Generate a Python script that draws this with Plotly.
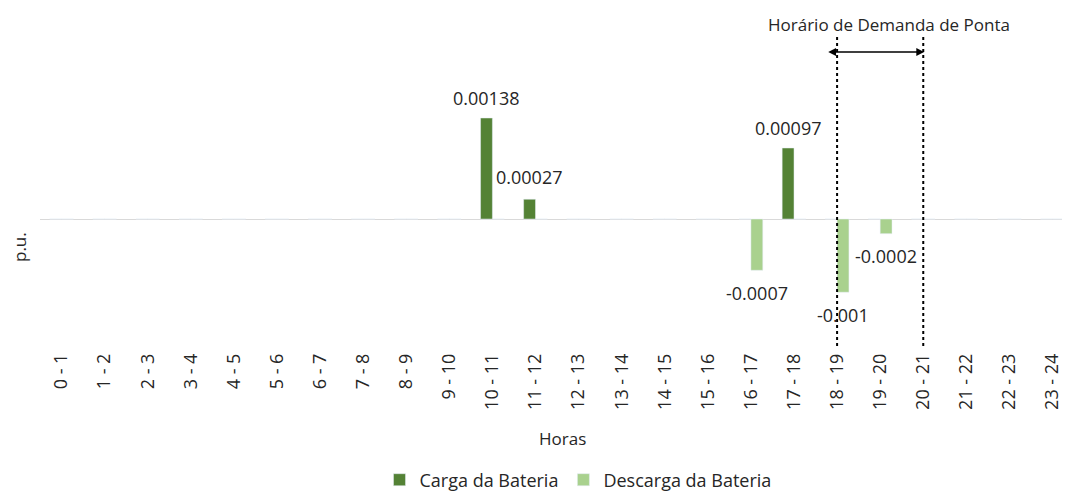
import plotly.graph_objects as go

categories = [f"{h} - {h+1}" for h in range(24)]
carga = [0, 0, 0, 0, 0, 0, 0, 0, 0, 0, 0.00138, 0.00027, 0, 0, 0, 0, 0, 0.00097, 0, 0, 0, 0, 0, 0]
descarga = [0, 0, 0, 0, 0, 0, 0, 0, 0, 0, 0, 0, 0, 0, 0, 0, -0.0007, 0, -0.001, -0.0002, 0, 0, 0, 0]
carga_labels = {10: "0.00138", 11: "0.00027", 17: "0.00097"}
descarga_labels = {16: "-0.0007", 18: "-0.001", 19: "-0.0002"}
peak_start, peak_end = "18 - 19", "20 - 21"

FONT = "Open Sans"
DARK = "#548235"
LIGHT = "#A9D18E"
TXT = "#262626"

OFF = 8  # page body margin offset
W, H = 1070 - 2 * OFF, 492 - OFF
L, T = 40 - OFF, 15 - OFF
R = 0
B = H - (345 - OFF)
pw, ph = W - L - R, H - T - B


def px_x(p):
    return (p - OFF - L) / pw


def px_y(p):
    return (H - B - (p - OFF)) / ph


fig = go.Figure()
fig.add_trace(go.Bar(x=categories, y=carga, name="Carga da Bateria", marker_color=DARK))
fig.add_trace(go.Bar(x=categories, y=descarga, name="Descarga da Bateria", marker_color=LIGHT))

# label offsets (pixels) relative to the bar tip
shifts_c = {10: (0, 6), 11: (0, 8), 17: (0, 6)}
shifts_d = {16: (0, -9), 18: (0, -9), 19: (0, -8)}
ann = []
for i, t in carga_labels.items():
    dx, dy = shifts_c[i]
    ann.append(dict(x=i - 0.14, y=carga[i], xref="x", yref="y", text=t, showarrow=False,
                    yanchor="bottom", xshift=dx, yshift=dy, font=dict(size=18, color=TXT, family=FONT)))
for i, t in descarga_labels.items():
    dx, dy = shifts_d[i]
    ann.append(dict(x=i + 0.14, y=descarga[i], xref="x", yref="y", text=t, showarrow=False,
                    yanchor="top", xshift=dx, yshift=dy, font=dict(size=18, color=TXT, family=FONT)))

ann.append(dict(x=20.02, y=px_y(52), ax=17.76, ay=px_y(52), xref="x", yref="y domain", axref="x",
                ayref="y domain",
                text="", showarrow=True, arrowhead=2, startarrowhead=2, arrowside="end+start",
                arrowwidth=1.3, arrowsize=1.2, startarrowsize=1.2, arrowcolor="#000000"))
ann.append(dict(x=px_x(889), y=px_y(25), xref="paper", yref="paper", text="Horário de Demanda de Ponta",
                xanchor="center", yanchor="middle",
                showarrow=False, font=dict(size=17, color=TXT, family=FONT)))
ann.append(dict(x=px_x(19), y=px_y(247), xref="paper", yref="paper", text="p.u.", textangle=-90,
                xanchor="center", yanchor="middle",
                showarrow=False, font=dict(size=17, color=TXT, family=FONT)))
ann.append(dict(x=px_x(562), y=px_y(438), xref="paper", yref="paper", text="Horas", showarrow=False,
                xanchor="center", yanchor="middle",
                font=dict(size=17, color=TXT, family=FONT)))

shapes = []
for c in (peak_start, peak_end):
    shapes.append(dict(type="line", xref="x", yref="paper", x0=categories.index(c), x1=categories.index(c),
                       y0=px_y(346), y1=px_y(36),
                       line=dict(color="#000000", width=2, dash="dot")))

fig.update_layout(
    width=W, height=H, margin=dict(l=L, r=R, t=T, b=B, autoexpand=False),
    paper_bgcolor="white", plot_bgcolor="white",
    barmode="group", bargap=0.45, bargroupgap=0,
    font=dict(family=FONT, color=TXT),
    annotations=ann, shapes=shapes,
    showlegend=True,
    legend=dict(orientation="h", x=px_x(578), xanchor="center", y=px_y(480), yanchor="middle",
                font=dict(size=18, color=TXT, family=FONT), traceorder="normal"),
)
fig.update_xaxes(type="category", range=[-0.5, 23.22], tickangle=-90, showgrid=False, showline=False,
                 ticks="", tickfont=dict(size=18, color=TXT, family=FONT), ticklabelstandoff=4,
                 automargin=False)
fig.update_yaxes(range=[-0.001721, 0.002787], showgrid=False, showticklabels=False, zeroline=True,
                 zerolinecolor="#d9d9d9", zerolinewidth=1.3, ticks="", automargin=False)

fig.write_html("out.html")
